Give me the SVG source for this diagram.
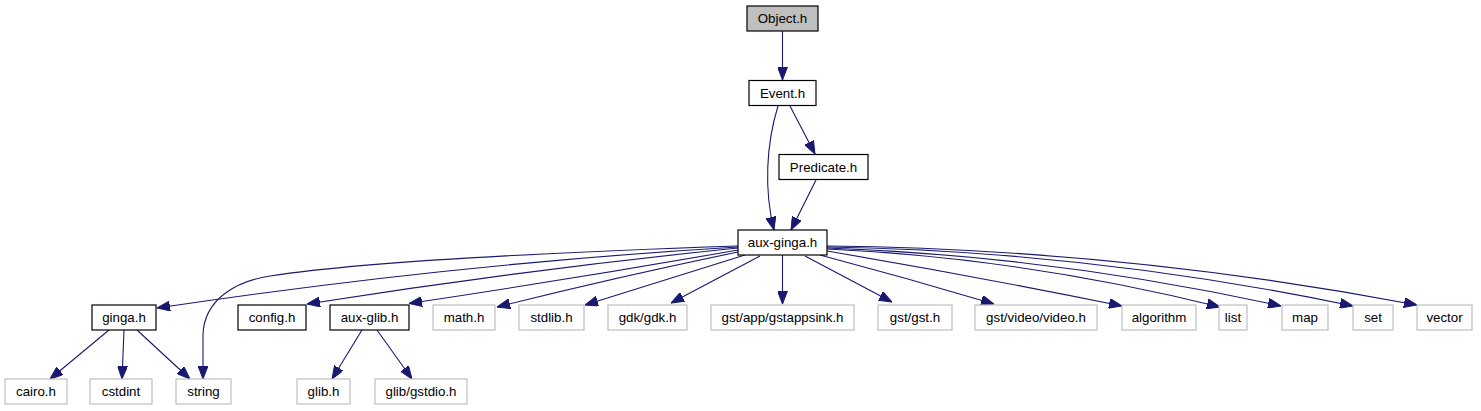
<svg xmlns="http://www.w3.org/2000/svg" width="1481" height="411" viewBox="0 0 1481 411">
<style>
  .n rect { fill: #ffffff; stroke: #000000; stroke-width: 1.2; }
  .g rect { fill: #ffffff; stroke: #bfbfbf; stroke-width: 1.2; }
  .root rect { fill: #bfbfbf; stroke: #000000; stroke-width: 1.2; }
  text { font-family: "Liberation Sans", Arial, Helvetica, sans-serif; font-size: 13.3px; fill: #000000; text-anchor: middle; }
  #edges path { fill: none; stroke: #191970; stroke-width: 1.1; marker-end: url(#arr); }
</style>
<defs>
  <marker id="arr" viewBox="0 0 13 10" refX="13" refY="5" markerWidth="13" markerHeight="10" markerUnits="userSpaceOnUse" orient="auto">
    <path d="M0,0 L13,5 L0,10 z" fill="#191970" stroke="#191970" stroke-width="1"/>
  </marker>
</defs>
<rect x="0" y="0" width="1481" height="411" fill="#ffffff"/>
<g id="edges">
  <path d="M782.5,31 L782.5,80"/>
  <path d="M790,106 L815,154"/>
  <path d="M778,106 C766,145 764,190 774,230"/>
  <path d="M816,180 L791,230"/>
  <path d="M738,246 C560,252 360,262 270,276 C238,281 204,298 203,335 L203,379"/>
  <path d="M738,247 Q452,264 157,308"/>
  <path d="M738,248 Q522,270 307,304"/>
  <path d="M738,250 Q573,279 409,303.5"/>
  <path d="M738,252 Q617,277 497,307"/>
  <path d="M745,255 Q665,280 585,305"/>
  <path d="M760,256 L671,303"/>
  <path d="M782.5,255 L782.5,304"/>
  <path d="M805,256 L892,302"/>
  <path d="M820,255 Q907,278 994,304"/>
  <path d="M827,251 Q974,276 1122,306"/>
  <path d="M827,249 Q1023,258 1220,307"/>
  <path d="M827,248 Q1054,256 1281,306"/>
  <path d="M827,247 Q1090,251 1353,306"/>
  <path d="M827,246 Q1122,249 1417,305"/>
  <path d="M109,330 L50,379"/>
  <path d="M124,330 L122,379"/>
  <path d="M137,330 L190,379"/>
  <path d="M362,330 L332,379"/>
  <path d="M377,330 L412,379"/>
</g>
<g id="node-object" class="root"><rect x="747" y="6" width="71" height="25"/><text x="782.5" y="23">Object.h</text></g>
<g id="node-event" class="n"><rect x="749" y="80.5" width="67" height="25"/><text x="782.5" y="97.5">Event.h</text></g>
<g id="node-predicate" class="n"><rect x="779" y="154.5" width="89" height="25"/><text x="823.5" y="171.5">Predicate.h</text></g>
<g id="node-aux-ginga" class="n"><rect x="738" y="230" width="89" height="25"/><text x="782.5" y="247">aux-ginga.h</text></g>
<g id="node-ginga" class="n"><rect x="92" y="305" width="64" height="25"/><text x="124" y="322">ginga.h</text></g>
<g id="node-config" class="n"><rect x="238" y="305" width="68" height="25"/><text x="272" y="322">config.h</text></g>
<g id="node-aux-glib" class="n"><rect x="330" y="305" width="79" height="25"/><text x="369.5" y="322">aux-glib.h</text></g>
<g id="node-math" class="g"><rect x="433" y="305" width="62" height="25"/><text x="464" y="322">math.h</text></g>
<g id="node-stdlib" class="g"><rect x="519" y="305" width="65" height="25"/><text x="551.5" y="322">stdlib.h</text></g>
<g id="node-gdk" class="g"><rect x="608" y="305" width="79" height="25"/><text x="647.5" y="322">gdk/gdk.h</text></g>
<g id="node-gstappsink" class="g"><rect x="711" y="305" width="143" height="25"/><text x="782.5" y="322">gst/app/gstappsink.h</text></g>
<g id="node-gst" class="g"><rect x="878" y="305" width="74" height="25"/><text x="915" y="322">gst/gst.h</text></g>
<g id="node-video" class="g"><rect x="975" y="305" width="122" height="25"/><text x="1036" y="322">gst/video/video.h</text></g>
<g id="node-algorithm" class="g"><rect x="1122" y="305" width="74" height="25"/><text x="1159" y="322">algorithm</text></g>
<g id="node-list" class="g"><rect x="1219" y="305" width="28" height="25"/><text x="1233" y="322">list</text></g>
<g id="node-map" class="g"><rect x="1282" y="305" width="46" height="25"/><text x="1305" y="322">map</text></g>
<g id="node-set" class="g"><rect x="1353" y="305" width="40" height="25"/><text x="1373" y="322">set</text></g>
<g id="node-vector" class="g"><rect x="1417" y="305" width="55" height="25"/><text x="1444.5" y="322">vector</text></g>
<g id="node-cairo" class="g"><rect x="5" y="379" width="62" height="25"/><text x="36" y="396">cairo.h</text></g>
<g id="node-cstdint" class="g"><rect x="90" y="379" width="62" height="25"/><text x="121" y="396">cstdint</text></g>
<g id="node-string" class="g"><rect x="176" y="379" width="55" height="25"/><text x="203.5" y="396">string</text></g>
<g id="node-glib" class="g"><rect x="297" y="379" width="53" height="25"/><text x="323.5" y="396">glib.h</text></g>
<g id="node-gstdio" class="g"><rect x="375" y="379" width="92" height="25"/><text x="421" y="396">glib/gstdio.h</text></g>
</svg>
